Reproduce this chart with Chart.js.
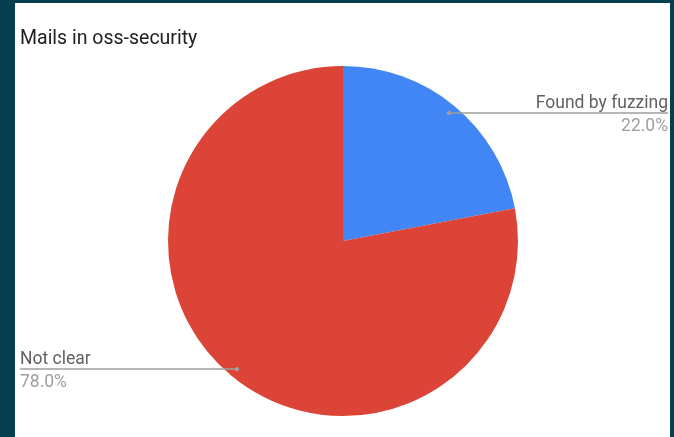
<!DOCTYPE html>
<html>
<head>
<meta charset="utf-8">
<script src="https://cdn.jsdelivr.net/npm/chart.js@4"></script>
<style>
    html, body { margin: 0; padding: 0; background: #073f51; }
    #frame {
        position: absolute; left: 15px; top: 3px; width: 655px; height: 434px;
        background: #ffffff;
    }
</style>
</head>
<body>
<div id="frame"><canvas id="pieChart"></canvas></div>
<script>
    const chartTitle = 'Mails in oss-security';
    const categories = ['Found by fuzzing', 'Not clear'];
    const shares = [22.0, 78.0];
    const sliceColors = ['#4285f4', '#db4437'];

    // Draws title and the leader-line labels next to each slice
    const calloutPlugin = {
        id: 'callouts',
        afterDraw(chart) {
            const ctx = chart.ctx;
            const width = chart.width;
            ctx.save();

            ctx.fillStyle = '#212121';
            ctx.font = '19.5px Roboto';
            ctx.textAlign = 'left';
            ctx.textBaseline = 'alphabetic';
            ctx.fillText(chartTitle, 5, 41);

            const arcs = chart.getDatasetMeta(0).data;
            arcs.forEach(function (arc, i) {
                const mid = (arc.startAngle + arc.endAngle) / 2;
                const r = arc.outerRadius * 0.95;
                const px = arc.x + Math.cos(mid) * r;
                const py = arc.y + Math.sin(mid) * r;
                const onRight = Math.cos(mid) >= 0;
                const edge = onRight ? width - 2 : 5;

                ctx.strokeStyle = '#9e9e9e';
                ctx.lineWidth = 1.5;
                ctx.beginPath();
                ctx.moveTo(px, py);
                ctx.lineTo(edge, py);
                ctx.stroke();

                ctx.fillStyle = '#9e9e9e';
                ctx.beginPath();
                ctx.arc(px, py, 2.2, 0, Math.PI * 2);
                ctx.fill();

                ctx.textAlign = onRight ? 'right' : 'left';
                ctx.font = '17.5px Roboto';
                ctx.fillStyle = '#616161';
                ctx.textBaseline = 'alphabetic';
                ctx.fillText(categories[i], edge, py - 5);

                ctx.fillStyle = '#9e9e9e';
                ctx.textBaseline = 'top';
                ctx.fillText(shares[i].toFixed(1) + '%', edge, py + 5);
            });
            ctx.restore();
        }
    };

    new Chart(document.getElementById('pieChart'), {
        type: 'pie',
        data: {
            labels: categories,
            datasets: [{
                data: shares,
                backgroundColor: sliceColors,
                borderWidth: 0
            }]
        },
        options: {
            responsive: true,
            maintainAspectRatio: false,
            animation: false,
            layout: { padding: { top: 63, bottom: 21, left: 153, right: 152 } },
            plugins: {
                legend: { display: false },
                tooltip: { enabled: false },
                title: { display: false }
            }
        },
        plugins: [calloutPlugin]
    });
</script>
</body>
</html>
